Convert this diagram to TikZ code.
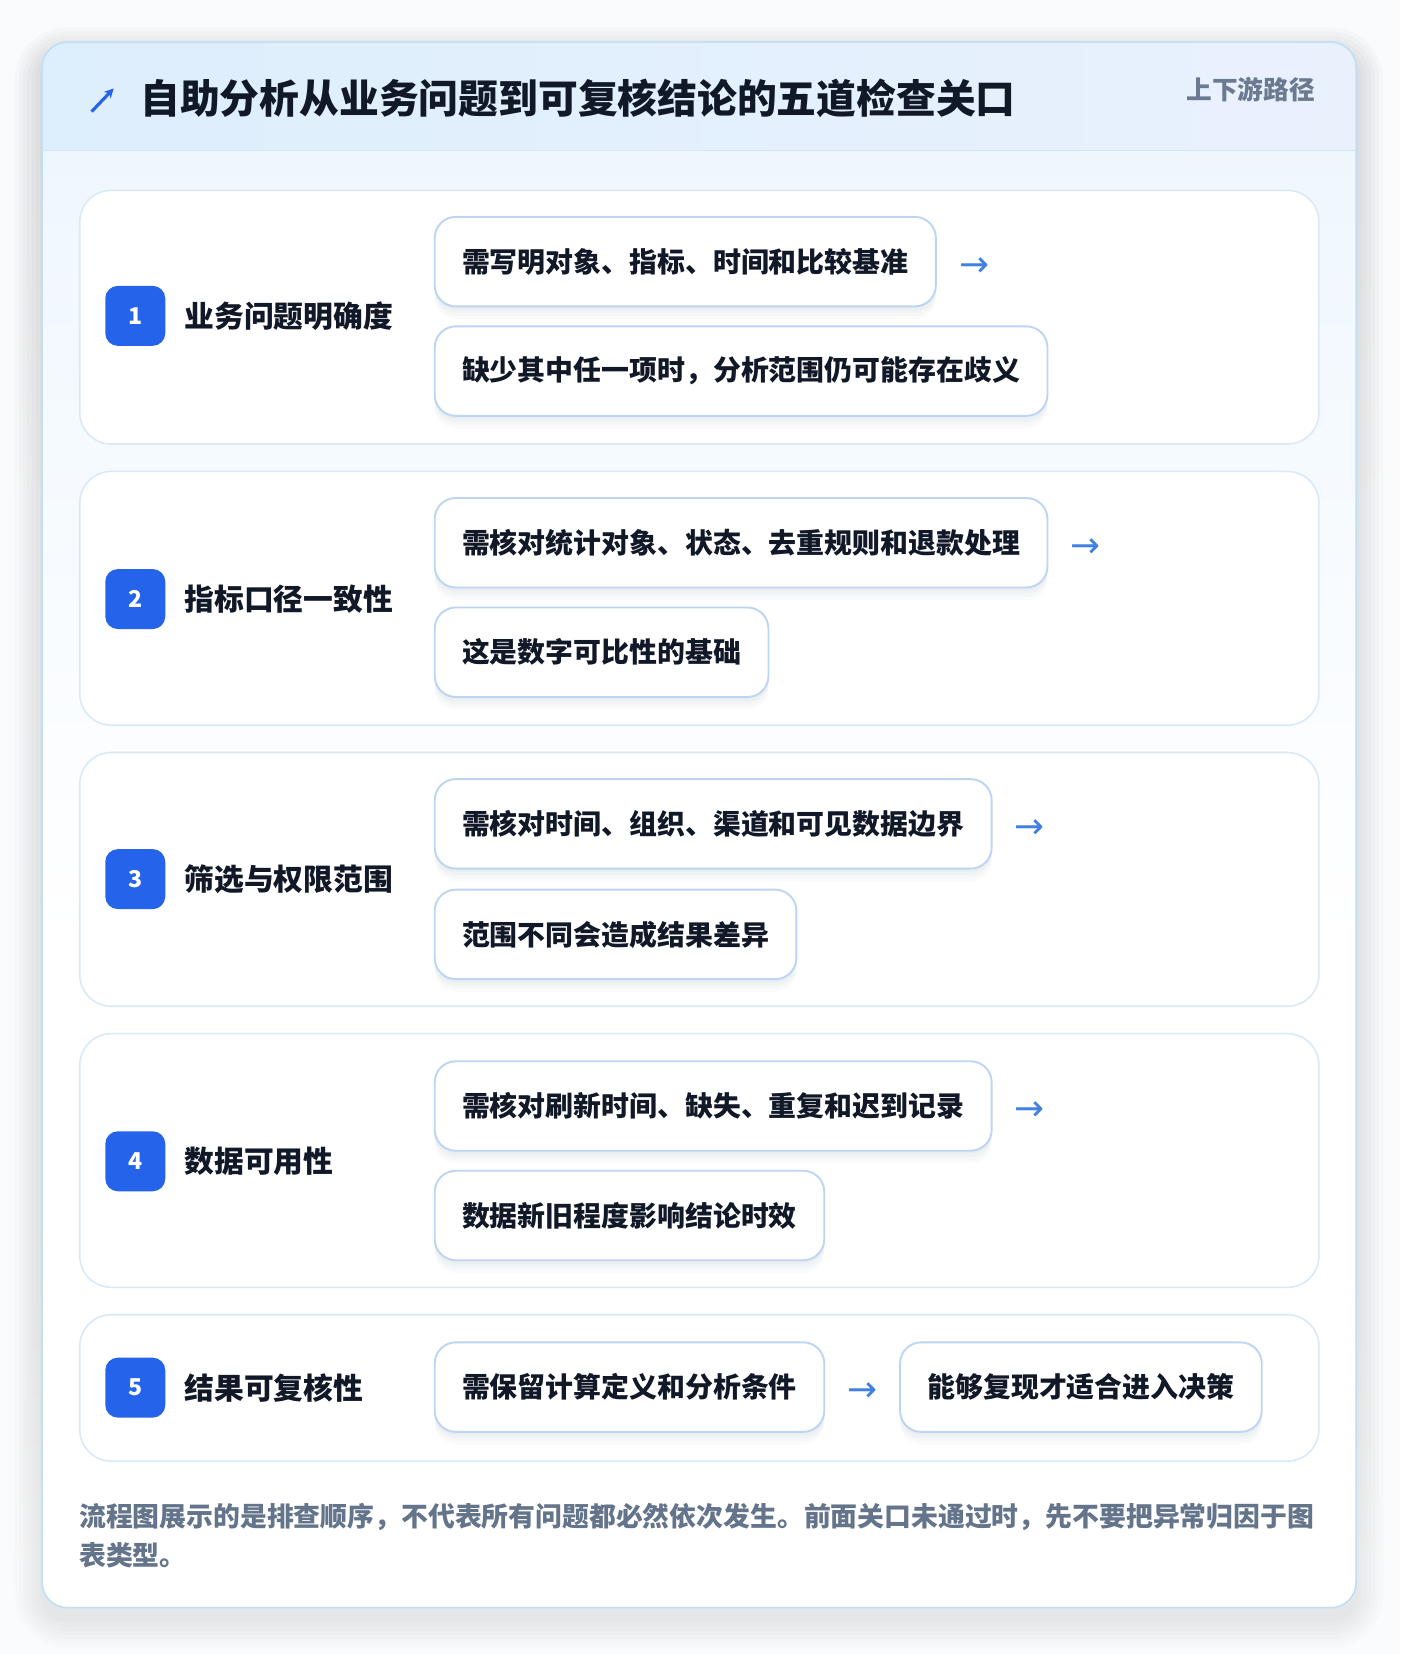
\documentclass[tikz,border=0pt]{standalone}
\usepackage{fontspec}
\setmainfont{Noto Sans CJK SC}
\newfontfamily\symf{DejaVu Sans}
\usetikzlibrary{calc,arrows.meta}
\definecolor{pagebg}{HTML}{FAFBFC}
\definecolor{cardborder}{HTML}{BFDFF6}
\definecolor{headL}{HTML}{DDEEFC}
\definecolor{headR}{HTML}{E9F1FD}
\definecolor{headline}{HTML}{D3E5F8}
\definecolor{bodytop}{HTML}{EFF7FE}
\definecolor{panelborder}{HTML}{D9E9FA}
\definecolor{boxborder}{HTML}{BDD5F3}
\definecolor{badgeblue}{HTML}{2563EB}
\definecolor{arrowblue}{HTML}{3F80E0}
\definecolor{ink}{HTML}{111827}
\definecolor{footgray}{HTML}{64748B}
\definecolor{sidegray}{HTML}{6B7A90}
\definecolor{shade}{HTML}{1E3A5F}
\newcommand\fTitle{\fontsize{37.8}{44}\selectfont\bfseries}
\newcommand\fLabel{\fontsize{28.3}{34}\selectfont\bfseries}
\newcommand\fBoxT{\fontsize{26.5}{32}\selectfont\bfseries}
\newcommand\fFoot{\fontsize{25.5}{37}\selectfont\bfseries}
\newcommand\fSide{\fontsize{24.4}{30}\selectfont\bfseries}
\newcommand\fNum{\fontsize{22}{24}\selectfont\bfseries}
\tikzset{
  panel/.style={draw=panelborder, line width=1.5pt, rounded corners=30pt, fill=white,
    minimum width=1177pt, anchor=north west, inner sep=0pt},
  softshadow/.style={
    preaction={fill=shade, fill opacity=0.025, draw=none, transform canvas={yshift=-3pt}},
    preaction={fill=shade, fill opacity=0.025, draw=none, transform canvas={yshift=-6pt}},
    preaction={fill=shade, fill opacity=0.02, draw=none, transform canvas={yshift=-9pt}},
    preaction={fill=shade, fill opacity=0.015, draw=none, transform canvas={yshift=-12pt}}},
  stepbox/.style={draw=boxborder, line width=1.8pt, rounded corners=20pt, fill=white,
    minimum height=85pt, inner xsep=26pt, inner ysep=0pt, anchor=west, font=\fBoxT, text=ink,
    softshadow},
  badge/.style={fill=badgeblue, rounded corners=12pt, minimum size=57pt, inner sep=0pt,
    text=white, font=\fNum},
  rowlabel/.style={anchor=west, inner sep=0pt, font=\fLabel, text=ink},
  flowarrow/.style={inner sep=0pt, font=\symf\fontsize{34}{34}\selectfont, text=arrowblue},
}
\begin{document}
\begin{tikzpicture}[x=1pt,y=-1pt]
\useasboundingbox (0,0) rectangle (1330,1571);
\fill[pagebg] (0,0) rectangle (1330,1571);
% card shadow
\foreach \g in {2,6,10,14,18,22,26} {
  \fill[shade, fill opacity=0.012, rounded corners=24pt+\g pt]
    (40-\g,40-\g+12) rectangle (1288+\g,1527+\g+12);
}
\fill[white, rounded corners=24pt] (40,40) rectangle (1288,1527);
\begin{scope}
  \clip[rounded corners=24pt] (40,40) rectangle (1288,1527);
  \fill[left color=headL, right color=headR] (40,40) rectangle (1288,143);
  \fill[top color=bodytop, bottom color=white] (40,143) rectangle (1288,900);
  \fill[white] (40,899) rectangle (1288,1527);
  \draw[headline, line width=1.5pt] (40,143) -- (1288,143);
\end{scope}
\draw[cardborder, line width=1.5pt, rounded corners=24pt] (40,40) rectangle (1288,1527);
% header
\coordinate (iconS) at (87,106);
\coordinate (iconE) at (108,84);
\draw[badgeblue, line width=3pt, -{Stealth[length=9pt,width=9pt]}] (iconS) -- (iconE);
\node[anchor=west, inner sep=0pt, font=\fTitle, text=ink] (title) at (133,93) {自助分析从业务问题到可复核结论的五道检查关口};
\node[anchor=east, inner sep=0pt, font=\fSide, text=sidegray] (side) at (1249,85) {上下游路径};
% panels
\node[panel, minimum height=241pt] (p1) at (75,180) {};
\node[panel, minimum height=241pt] (p2) at (75,447) {};
\node[panel, minimum height=241pt] (p3) at (75,714) {};
\node[panel, minimum height=241pt] (p4) at (75,981) {};
\node[panel, minimum height=139pt] (p5) at (75,1248) {};
% row 1
\node[badge] (b1) at (128.5,300) {1};
\node[rowlabel] (l1) at (175,300) {业务问题明确度};
\node[stepbox] (a1) at (412,248.5) {需写明对象、指标、时间和比较基准};
\node[stepbox] (c1) at (412,352.5) {缺少其中任一项时，分析范围仍可能存在歧义};
\node[flowarrow, anchor=west] (r1) at ($(a1.east)+(21,5)$) {→};
% row 2
\node[badge] (b2) at (128.5,569) {2};
\node[rowlabel] (l2) at (175,569) {指标口径一致性};
\node[stepbox] (a2) at (412,515.5) {需核对统计对象、状态、去重规则和退款处理};
\node[stepbox] (c2) at (412,619.5) {这是数字可比性的基础};
\node[flowarrow, anchor=west] (r2) at ($(a2.east)+(21,5)$) {→};
% row 3
\node[badge] (b3) at (128.5,835) {3};
\node[rowlabel] (l3) at (175,835) {筛选与权限范围};
\node[stepbox] (a3) at (412,782.5) {需核对时间、组织、渠道和可见数据边界};
\node[stepbox] (c3) at (412,887.5) {范围不同会造成结果差异};
\node[flowarrow, anchor=west] (r3) at ($(a3.east)+(21,5)$) {→};
% row 4
\node[badge] (b4) at (128.5,1103) {4};
\node[rowlabel] (l4) at (175,1103) {数据可用性};
\node[stepbox] (a4) at (412,1050.5) {需核对刷新时间、缺失、重复和迟到记录};
\node[stepbox] (c4) at (412,1154.5) {数据新旧程度影响结论时效};
\node[flowarrow, anchor=west] (r4) at ($(a4.east)+(21,5)$) {→};
% row 5
\node[badge] (b5) at (128.5,1318) {5};
\node[rowlabel] (l5) at (175,1318) {结果可复核性};
\node[stepbox] (a5) at (412,1317.5) {需保留计算定义和分析条件};
\node[stepbox] (c5) at (854,1317.5) {能够复现才适合进入决策};
\node[flowarrow] (r5) at ($(a5.east)!0.5!(c5.west)+(0,5)$) {→};
% footer
\node[anchor=north west, inner sep=0pt, align=left, font=\fFoot, text=footgray] (foot) at (75,1428)
  {流程图展示的是排查顺序，不代表所有问题都必然依次发生。前面关口未通过时，先不要把异常归因于图\\表类型。};
\end{tikzpicture}
\end{document}
